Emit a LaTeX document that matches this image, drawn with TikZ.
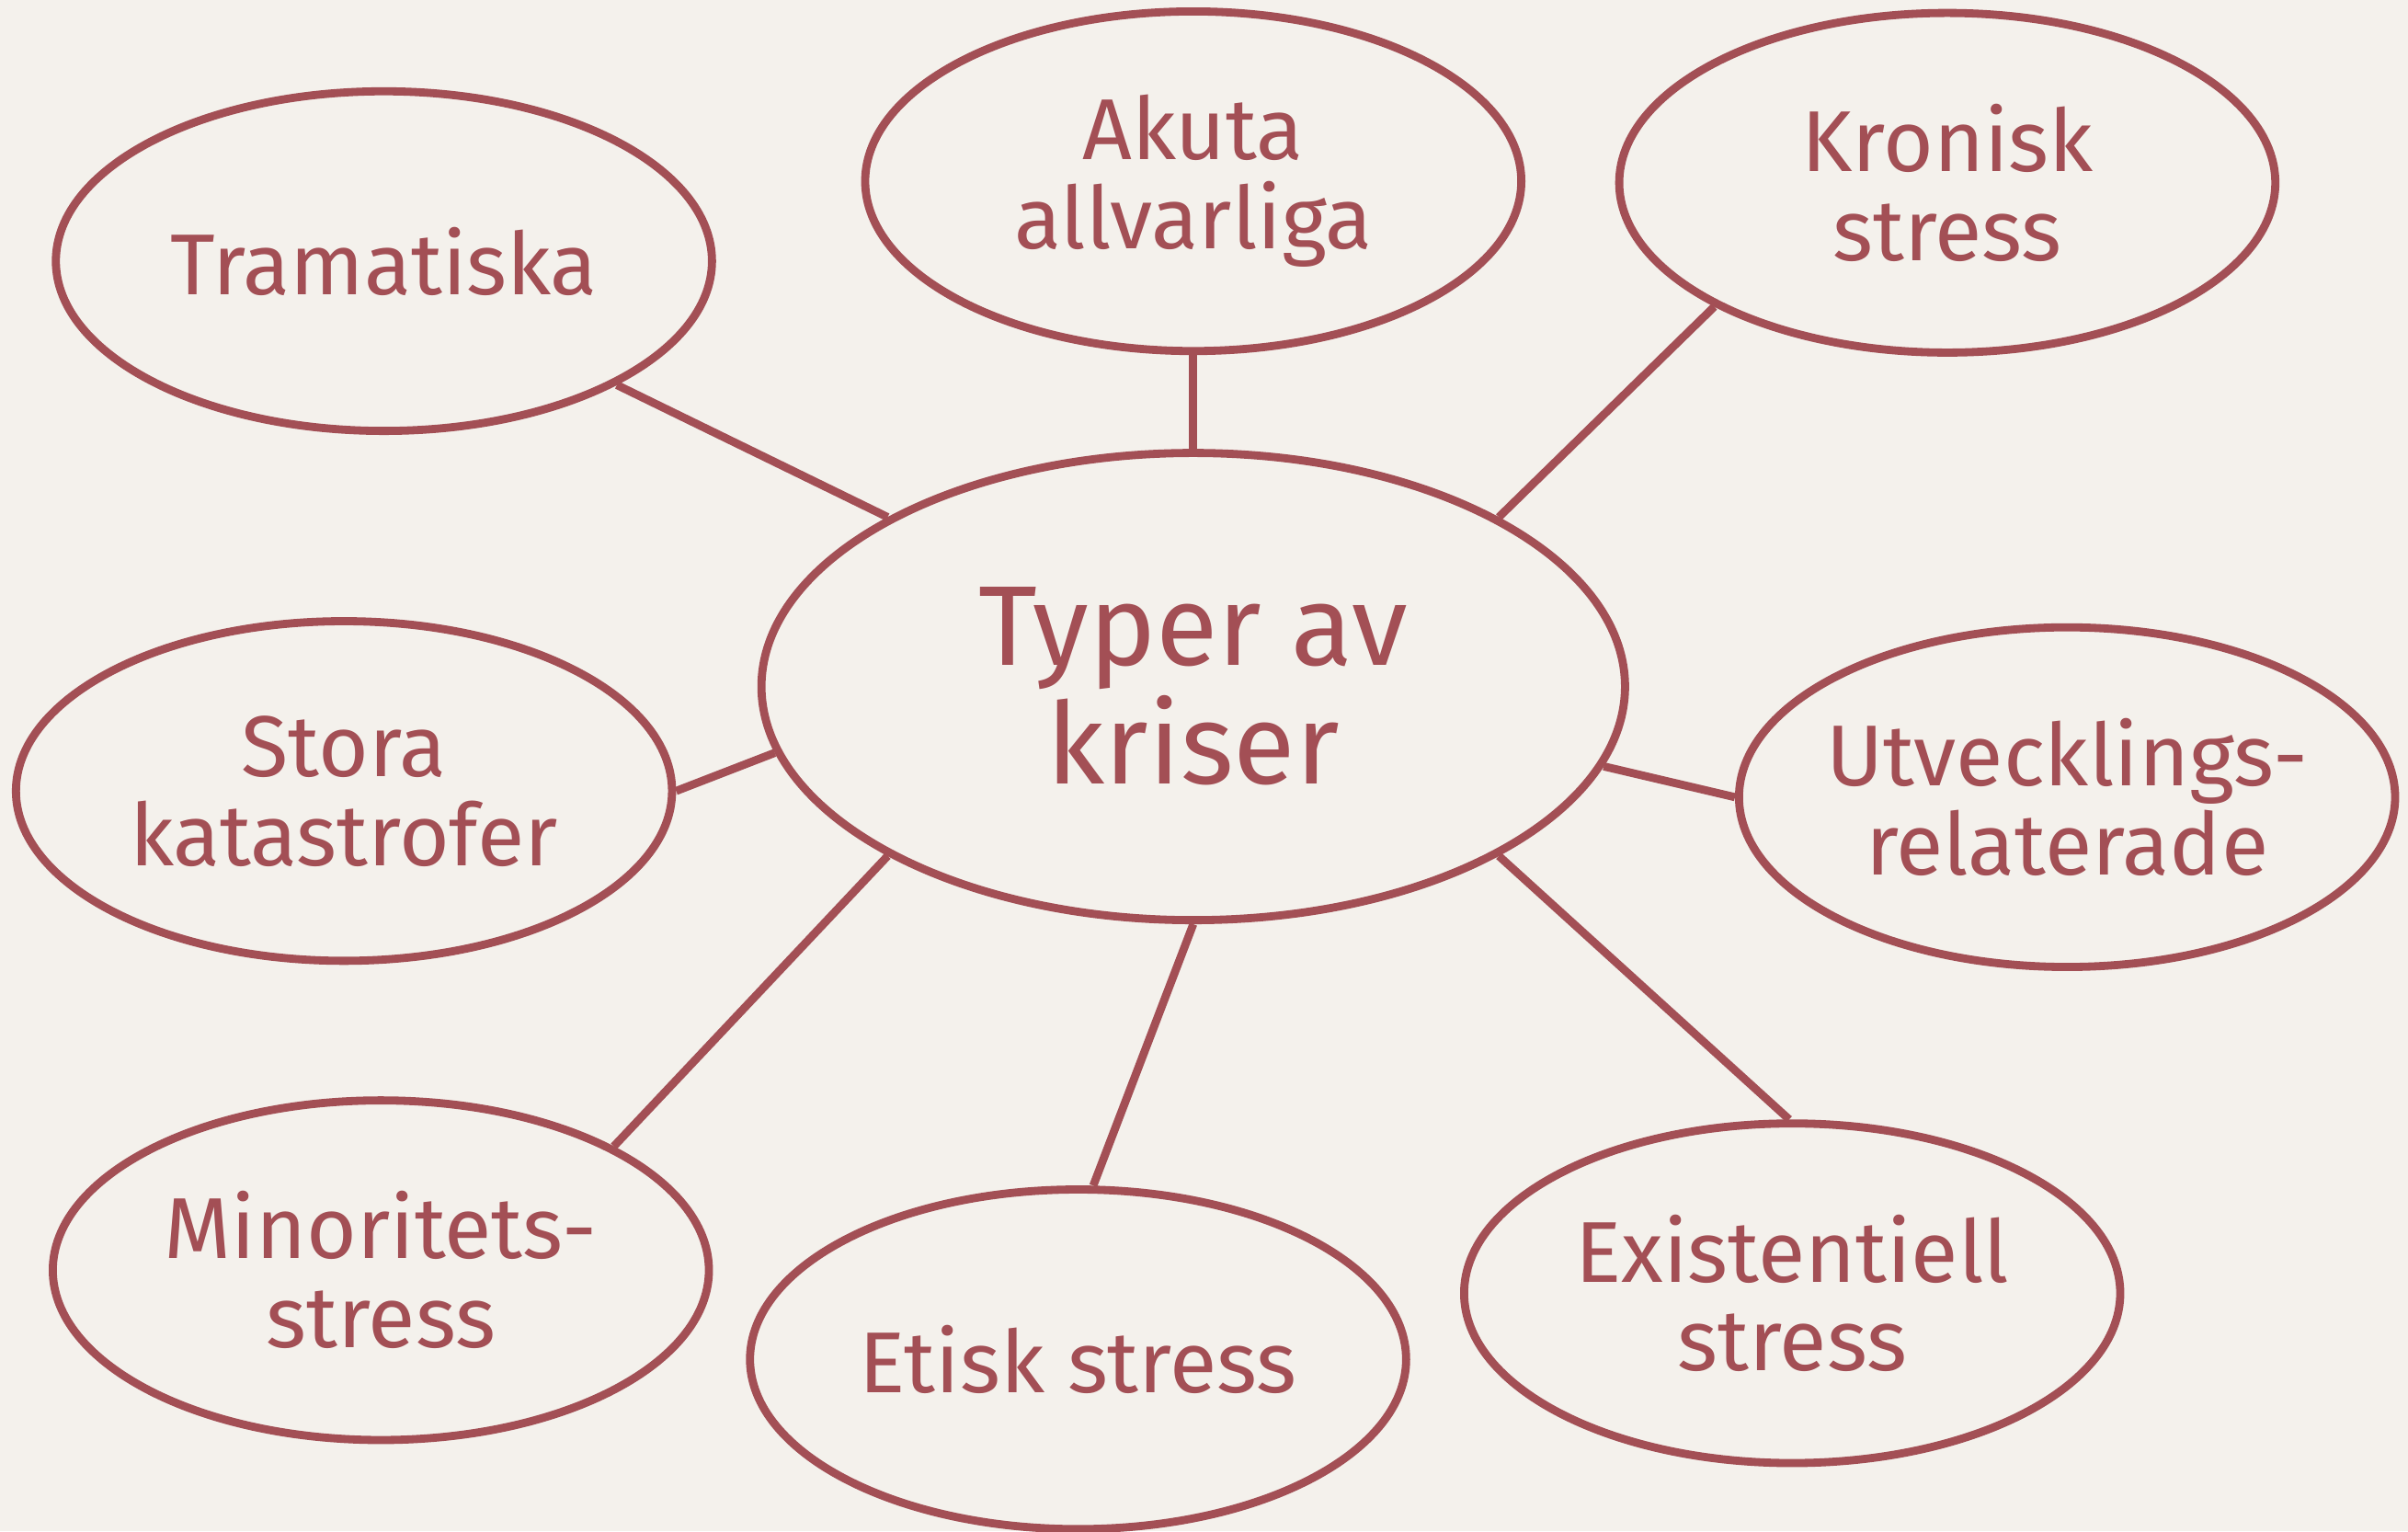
\documentclass[tikz,border=0pt]{standalone}
\usepackage{fontspec}
\setmainfont{Fira Sans}
\usetikzlibrary{shapes.geometric}
\definecolor{kris}{HTML}{A34F55}
\definecolor{paper}{HTML}{F4F1EC}

\begin{document}
\begin{tikzpicture}[x=0.01cm,y=-0.01cm]
	\tikzset{crisis/.style={ellipse,draw=kris,line width=1.5pt,text=kris,
			inner sep=-0.3cm,minimum width=4.27cm,minimum height=2.21cm,
			align=center,font=\fontsize{16}{16.5}\selectfont},
		hub/.style={crisis,minimum width=5.62cm,minimum height=3.04cm,
			font=\fontsize{21}{22}\selectfont},
		spoke/.style={draw=kris,line width=1.5pt}}
	% paper background fixes the margins
	\fill[paper] (0,0) rectangle (1568,997);
	\useasboundingbox (0,0) rectangle (1568,997);
	\node[hub] (typer) at (777,447) {Typer av\\kriser};
	\node[crisis] (tram) at (250,170) {Tramatiska};
	\node[crisis] (akut) at (777,118) {Akuta\\allvarliga};
	\node[crisis] (kron) at (1268,119) {Kronisk\\stress};
	\node[crisis] (stor) at (224,515) {Stora\\katastrofer};
	\node[crisis] (utv) at (1346,519) {Utvecklings-\\relaterade};
	\node[crisis] (mino) at (248,827) {Minoritets-\\stress};
	\node[crisis] (etik) at (702,885) {Etisk stress};
	\node[crisis] (exis) at (1167,842) {Existentiell\\stress};
	% spokes: hub angle / node / node angle
	\foreach \a/\n/\b in {151/tram/-28,90/akut/270,29/kron/208,189/stor/0,
		-11/utv/180,209/mino/28,270/etik/85,-29/exis/91}
	\draw[spoke] (typer.\a) -- (\n.\b);
\end{tikzpicture}
\end{document}
